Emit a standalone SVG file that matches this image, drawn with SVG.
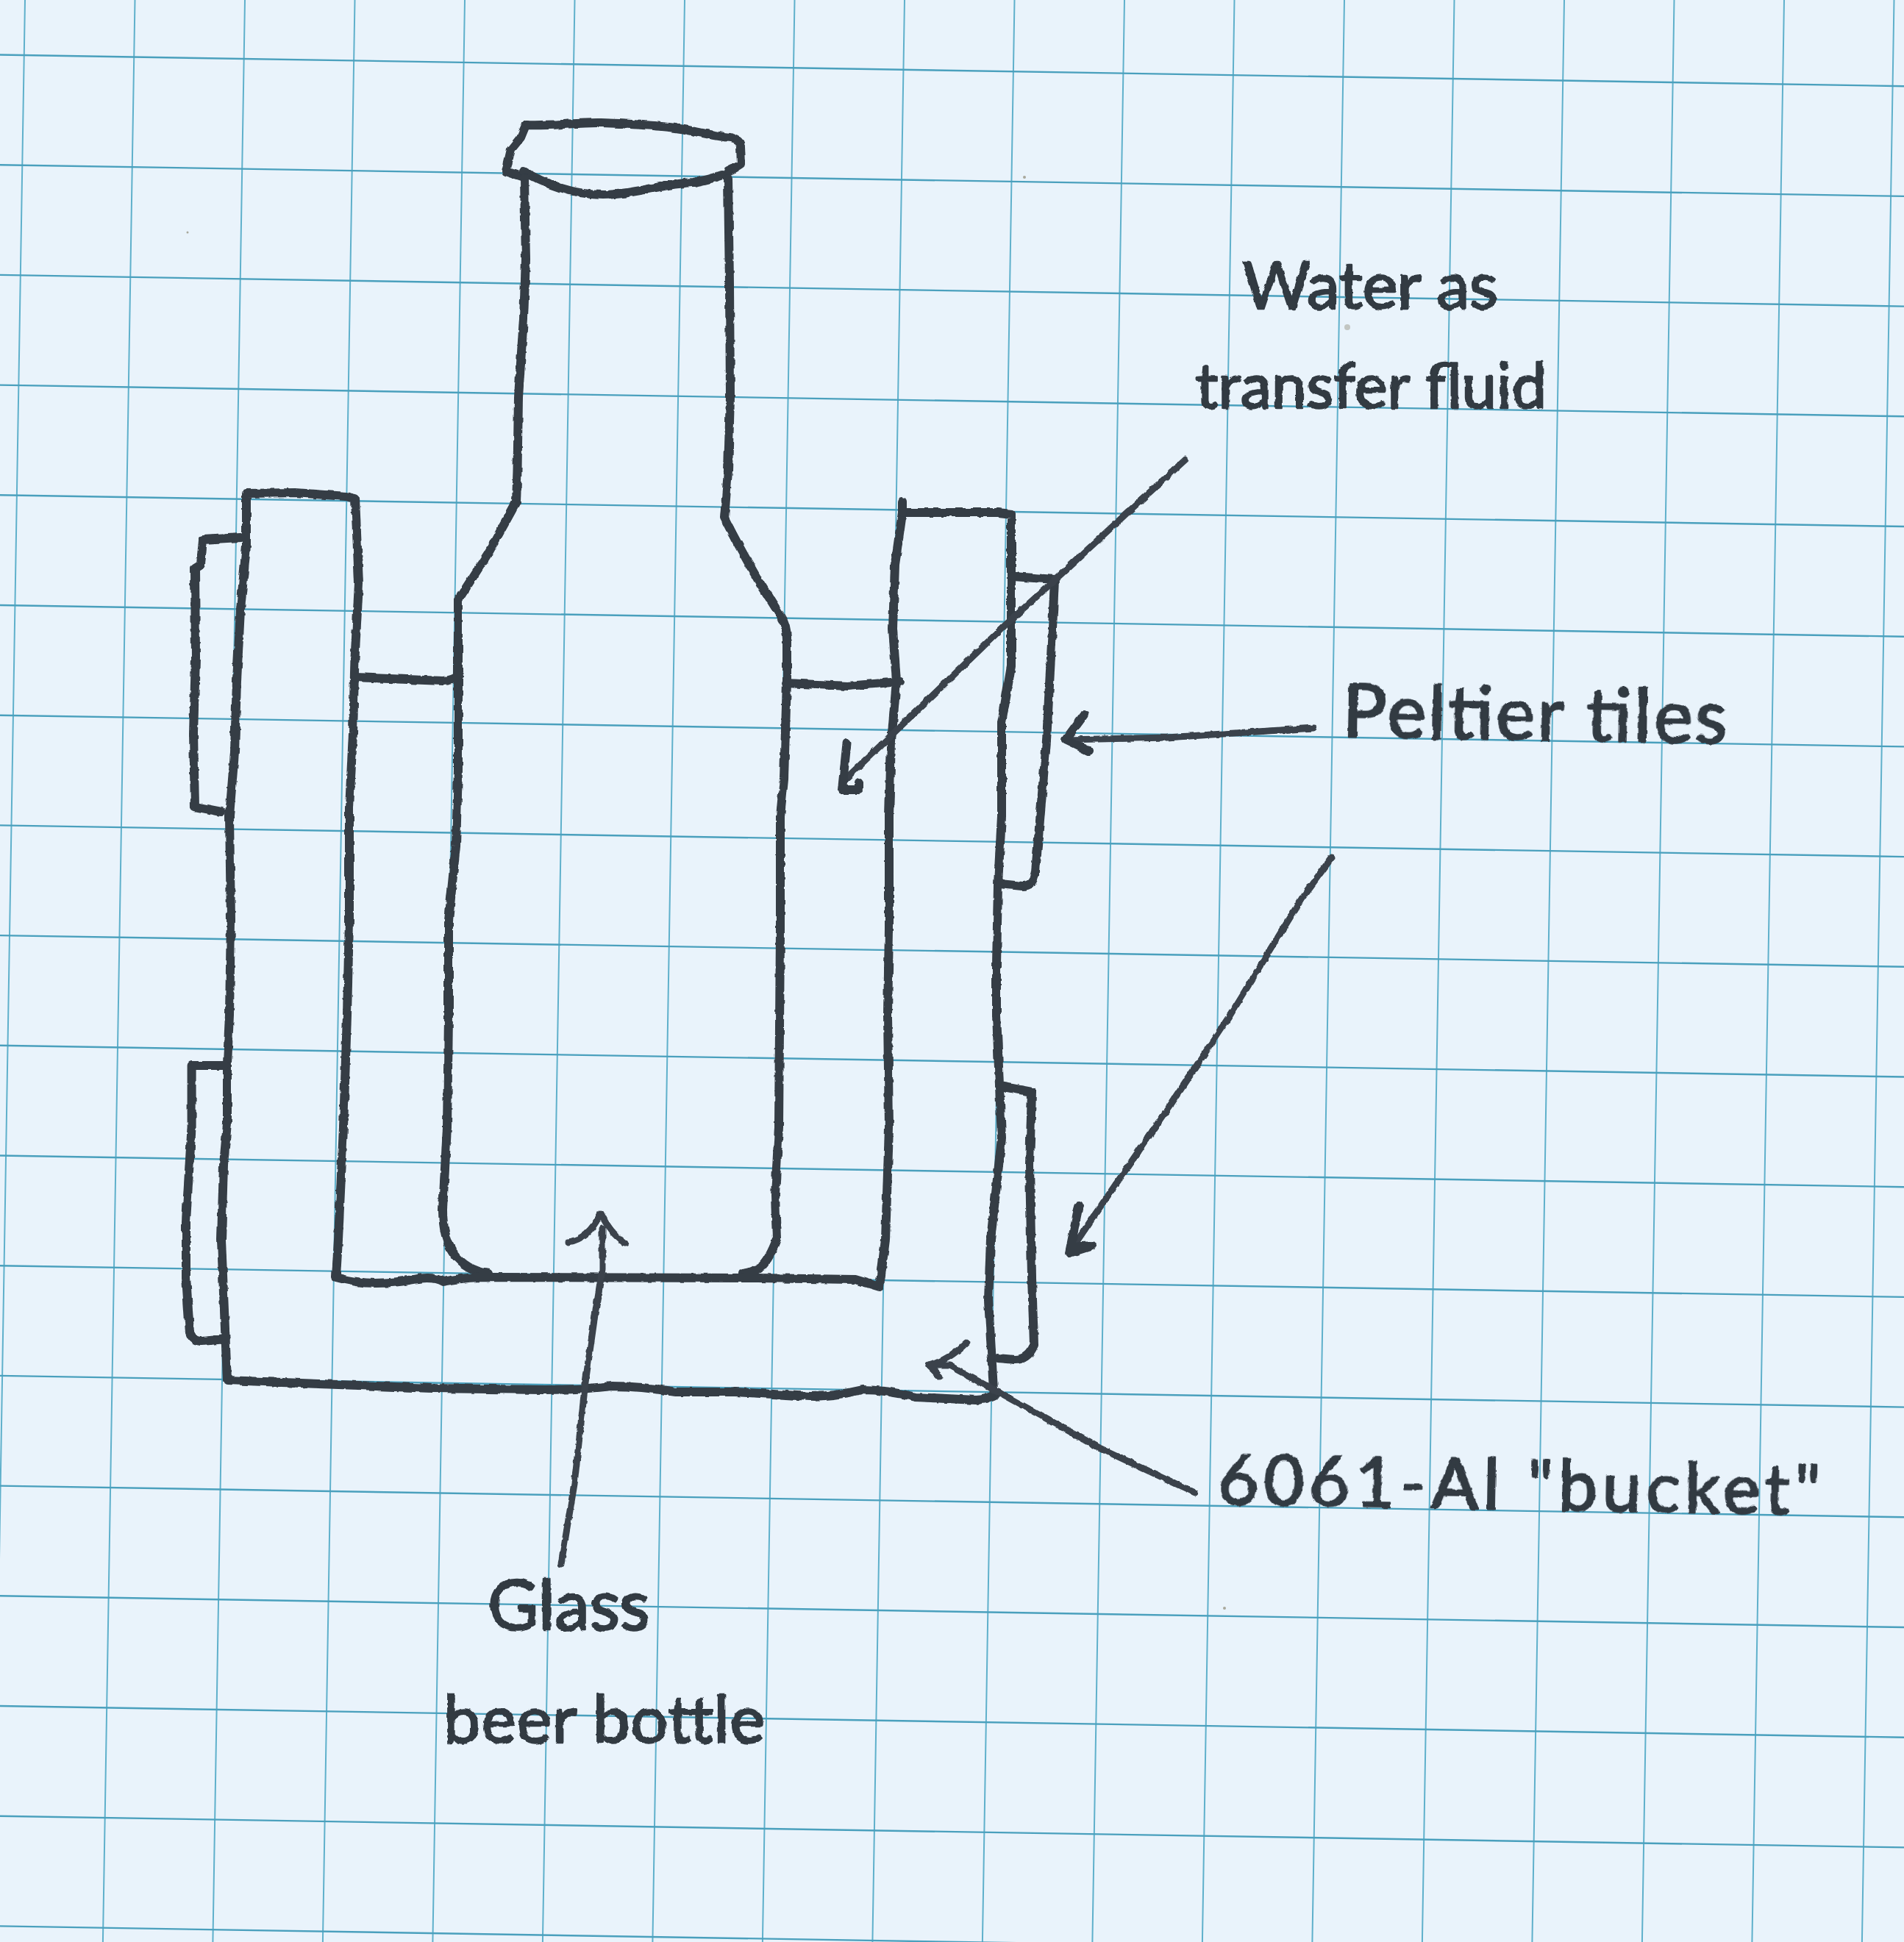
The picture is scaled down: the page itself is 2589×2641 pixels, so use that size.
<svg xmlns="http://www.w3.org/2000/svg" width="2589" height="2641" viewBox="0 0 2589 2641">
<style>
.gv{stroke:#5fb0cb;stroke-width:2;fill:none}
.gh{stroke:#4aa0bd;stroke-width:2.4;fill:none}
.ink{fill:none;stroke:#343c45;stroke-width:12;stroke-linejoin:round;stroke-linecap:round}
.thin{fill:none;stroke:#3a434c;stroke-width:9;stroke-linejoin:round;stroke-linecap:round}
.lbl{font-family:"Lato","Liberation Sans",sans-serif;fill:#323a43;stroke:#323a43;stroke-width:2.5;stroke-linejoin:round;font-weight:400}
.speck{fill:#a9a89c}
.r{filter:url(#rough)}
</style>
<defs>
<filter id="rough" filterUnits="userSpaceOnUse" x="0" y="0" width="2589" height="2641">
<feTurbulence type="fractalNoise" baseFrequency="0.09" numOctaves="2" seed="4"/>
<feDisplacementMap in="SourceGraphic" scale="4.5" xChannelSelector="R" yChannelSelector="G"/>
</filter>
</defs>
<rect id="paper" x="0" y="0" width="2589" height="2641" fill="#e9f3fb"/>
<g id="grid">
<path class="gv" d="M34 0L-9.6 2641M183.5 0L139.9 2641M333 0L289.4 2641M482.5 0L438.9 2641M632 0L588.4 2641M781.5 0L737.9 2641M931 0L887.4 2641M1080.5 0L1036.9 2641M1230 0L1186.4 2641M1379.5 0L1335.9 2641M1529 0L1485.4 2641M1678.5 0L1634.9 2641M1828 0L1784.4 2641M1977.5 0L1933.9 2641M2127 0L2083.4 2641M2276.5 0L2232.9 2641M2426 0L2382.4 2641M2575.5 0L2531.9 2641"/>
<path class="gh" d="M0 74.5L2589 117.2M0 224.2L2589 266.9M0 373.9L2589 416.6M0 523.6L2589 566.3M0 673.3L2589 716M0 823L2589 865.7M0 972.7L2589 1015.4M0 1122.4L2589 1165.1M0 1272.1L2589 1314.8M0 1421.8L2589 1464.5M0 1571.5L2589 1614.2M0 1721.2L2589 1763.9M0 1870.9L2589 1913.6M0 2020.6L2589 2063.3M0 2170.3L2589 2213M0 2320L2589 2362.7M0 2469.7L2589 2512.4M0 2619.4L2589 2662.1"/>
</g>
<g id="specks">
<circle class="speck" cx="1875" cy="417" r="5" fill-opacity="0.6"/>
<circle class="speck" cx="1832" cy="445" r="4" fill-opacity="0.6"/>
<circle class="speck" cx="255" cy="316" r="1.5"/>
<circle class="speck" cx="1393" cy="241" r="2"/>
<circle class="speck" cx="1665" cy="2187" r="2"/>
</g>
<g id="bottle" class="r">
<path class="ink" d="M715 170C745 172 790 166 817 167S880 170 910 173S960 184 993 187Q1007 190 1007 200L1008 223Q1000 229 990 233"/>
<path class="ink" d="M715 170L708 187L695 203L688 233L712 241"/>
<path class="ink" d="M712 233C740 250 780 265 820 265S900 250 943 248Q965 244 982 238"/>
<path class="ink" d="M713 242L715 353L712 433L705 540L703.5 640L702 683L664 752L623 816L623 921L623 1048L620 1150L610 1252L610 1380L608 1533L602 1645Q602 1722 664 1732"/>
<path class="ink" d="M990 242L992 387L993 540L990 640L985 704Q1000 735 1031 789L1061 837Q1070 850 1070 870L1070 927L1066 1059L1061 1110L1061 1263L1059 1533L1054 1625L1056 1686Q1046 1712 1036 1722Q1026 1730 1010 1732"/>
</g>
<g id="bucket" class="r">
<path class="ink" d="M335 671L401 670L470 675L483 678L488 793L482.5 895L480 997L475 1099L475 1252L472 1380L467 1533L460 1686L457 1737Q485 1745 510 1745T562 1740T602 1743Q625 1738 653 1737L1030 1738L1163 1740L1196 1750L1204 1686L1209 1533L1207 1380L1209 1263L1209 1110L1212 1008L1219 927L1214 855L1217 768L1227 697L1357 697L1375 699L1375 845L1375 906L1362 983L1362 1110L1357 1202L1355 1314L1355 1380L1362 1548L1347 1686L1344 1768L1351 1890L1357 1895Q1340 1904 1327 1904L1245 1900Q1205 1890 1173 1890Q1135 1899 1102 1899L1000 1893L919 1893Q870 1885 832 1885Q790 1890 740 1890L587 1888L434 1882L309 1877L306.5 1819L301 1686L304 1584L309 1528L309 1446L312 1380L314 1252L312 1109L319 1023L322 926L327 829L335 742Z"/>
<path class="ink" d="M1227 682L1227 697"/>
</g>
<g id="water" class="r">
<path class="ink" d="M483 921L602 926Q615 926 625 918"/>
<path class="ink" d="M1069 929L1153 933L1224 927"/>
</g>
<g id="tile-left-top" class="r">
<path class="ink" d="M327 731L276 734L273 768L265 773L266 895L263 997L265 1097L301 1104"/>
</g>
<g id="tile-left-bottom" class="r">
<path class="ink" d="M306.5 1449L260.6 1449L260.6 1533L253 1661L253 1737L258 1812Q262 1824 275 1824L306.5 1821"/>
</g>
<g id="tile-right-top" class="r">
<path class="ink" d="M1378 784L1434 788L1431 855L1423 1008L1411 1151L1408 1185Q1405 1205 1390 1205L1360 1202"/>
</g>
<g id="tile-right-bottom" class="r">
<path class="ink" d="M1360 1477L1403 1485L1400 1584L1403 1737L1406 1829Q1398 1849 1380 1849L1357 1847"/>
</g>
<g id="connectors" class="r">
<path class="thin" d="M1612 625L1531 699L1434 789L1367 850L1214 998L1150 1059"/>
<path class="ink" d="M1151.5 1011L1148 1045L1145 1074L1168 1074L1168 1064"/>
<path class="thin" d="M1786 990L1663 998L1587 1003L1449 1006"/>
<path class="ink" d="M1474 972L1449 1006L1480 1021"/>
<path class="thin" d="M1811 1166L1770 1222L1673 1380L1592 1502L1490 1650L1459 1696"/>
<path class="ink" d="M1467 1640L1454 1704L1485 1694L1459 1696"/>
<path class="thin" d="M1625 2030L1495 1969L1408 1921L1357 1893L1291 1857L1263 1857"/>
<path class="thin" d="M1314 1826Q1290 1850 1263 1857L1278 1872"/>
<path class="thin" d="M763 2127L781 2018L796 1880L809 1788L819 1727L819 1671"/>
<path class="thin" d="M773 1689Q800 1685 817 1650Q828 1675 850 1691"/>
</g>
<g id="labels" class="r">
<text class="lbl" x="1689" y="420" font-size="90" textLength="348">Water as</text>
<text class="lbl" x="1626" y="555" font-size="85" textLength="477">transfer fluid</text>
<text class="lbl" x="1825" y="1002" font-size="100" textLength="523" transform="rotate(1 1825 1002)">Peltier tiles</text>
<text class="lbl" x="1656" y="2046" font-size="95" textLength="819" transform="rotate(1 1656 2046)">6061-Al "bucket"</text>
<text class="lbl" x="663" y="2217" font-size="95" textLength="221">Glass</text>
<text class="lbl" x="603" y="2370" font-size="90" textLength="437">beer bottle</text>
</g>
</svg>
